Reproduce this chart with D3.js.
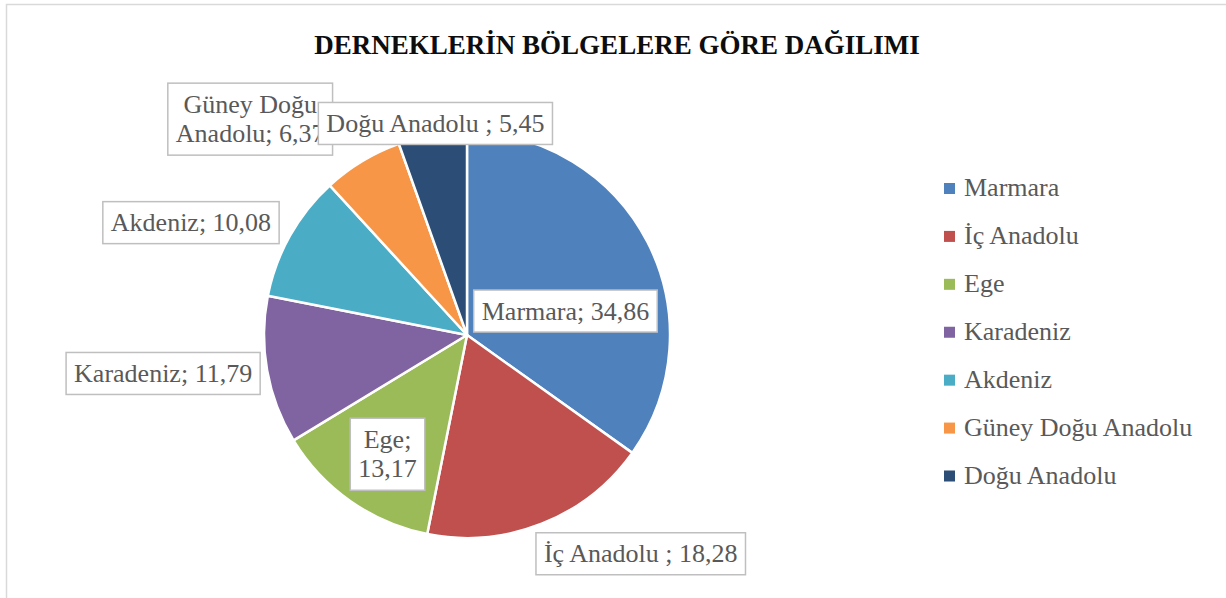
<!DOCTYPE html>
<html>
<head>
<meta charset="utf-8">
<script src="https://cdn.jsdelivr.net/npm/d3@7"></script>
<style>
  body { margin: 0; background: #fff; }
  svg { display: block; }
  text { font-family: "Liberation Serif", "Times New Roman", serif; }
</style>
</head>
<body>
<svg id="chart" width="1226" height="598"></svg>
<script>
// data
let regions = ["Marmara", "İç Anadolu", "Ege", "Karadeniz", "Akdeniz", "Güney Doğu Anadolu", "Doğu Anadolu"];
let shares = [34.86, 18.28, 13.17, 11.79, 10.08, 6.37, 5.45];
let labelPrefix = ["Marmara; ", "İç Anadolu ; ", "Ege;\n", "Karadeniz; ", "Akdeniz; ", "Güney Doğu\nAnadolu; ", "Doğu Anadolu ; "];
let colors = ["#4F81BD", "#C0504D", "#9BBB59", "#8064A2", "#4BACC6", "#F79646", "#2C4D75"];
let title = "DERNEKLERİN BÖLGELERE GÖRE DAĞILIMI";

// label nudges from the outer rim point of each slice (best-fit placement in the original)
let labelNudge = [[-82, 69], [99, 30], [37, -47], [-104, 3], [-99, -13], [-112, -42], [3, -11.5]];

let svg = d3.select('#chart');
let svgWidth = +svg.attr('width');
let svgHeight = +svg.attr('height');

let cx = 467, cy = 335;
let pieRadius = 203;

// chart area frame (only top and left edges are visible in the crop)
svg.append('path')
    .attr('d', 'M6.5,' + svgHeight + 'V4.5H' + svgWidth)
    .attr('fill', 'none')
    .attr('stroke', '#d9d9d9')
    .attr('stroke-width', 1.5);

svg.append('text')
    .attr('x', 617)
    .attr('y', 54)
    .attr('text-anchor', 'middle')
    .attr('font-size', '27px')
    .attr('font-weight', 'bold')
    .attr('fill', '#0d0d0d')
    .text(title);

let fmt = v => v.toFixed(2).replace('.', ',');

let data = regions.map((r, i) => ({name: r, value: shares[i], color: colors[i], prefix: labelPrefix[i], nudge: labelNudge[i]}));

let pie = d3.pie().sort(null).value(d => d.value);
let arc = d3.arc().outerRadius(pieRadius).innerRadius(0);
let rimArc = d3.arc().outerRadius(pieRadius).innerRadius(pieRadius);

let g = svg.append('g').attr('transform', 'translate(' + cx + ',' + cy + ')');

let arcs = pie(data);

g.selectAll('path.slice')
    .data(arcs)
    .enter()
    .append('path')
    .attr('class', 'slice')
    .attr('d', arc)
    .attr('fill', d => d.data.color)
    .attr('stroke', '#fff')
    .attr('stroke-width', 2.5)
    .attr('stroke-linejoin', 'round');

// data labels
let fontSize = 26;
let lineHeight = 29;
let padX = 8;

let labels = g.selectAll('g.label')
    .data(arcs)
    .enter()
    .append('g')
    .attr('class', 'label')
    .attr('transform', function(d) {
        let c = rimArc.centroid(d);
        return 'translate(' + (c[0] + d.data.nudge[0]) + ',' + (c[1] + d.data.nudge[1]) + ')';
    });

labels.each(function(d) {
    let sel = d3.select(this);
    let lines = (d.data.prefix + fmt(d.data.value)).split('\n');
    let rect = sel.append('rect')
        .attr('fill', '#fff')
        .attr('stroke', '#bfbfbf')
        .attr('stroke-width', 1.5);
    let txt = sel.append('text')
        .attr('text-anchor', 'middle')
        .attr('font-size', fontSize + 'px')
        .attr('fill', '#595959');
    let y0 = -(lines.length - 1) * lineHeight / 2;
    lines.forEach((l, k) => {
        txt.append('tspan')
            .attr('x', 0)
            .attr('y', y0 + k * lineHeight)
            .attr('dy', '0.33em')
            .text(l);
    });
    let w = txt.node().getBBox().width + padX * 2;
    let h = lines.length > 1 ? 72 : 42;
    rect.attr('x', -w / 2).attr('y', -h / 2).attr('width', w).attr('height', h);
});

// legend
let legendY = d3.scalePoint().domain(regions).range([188.5, 476]);

let legend = svg.append('g').selectAll('g')
    .data(data)
    .enter()
    .append('g')
    .attr('transform', d => 'translate(944,' + legendY(d.name) + ')');

legend.append('rect')
    .attr('x', 0)
    .attr('y', -5.5)
    .attr('width', 11)
    .attr('height', 11)
    .attr('fill', d => d.color);

legend.append('text')
    .attr('x', 20)
    .attr('y', 0)
    .attr('dy', '0.3em')
    .attr('font-size', fontSize + 'px')
    .attr('fill', '#595959')
    .text(d => d.name);
</script>
</body>
</html>
